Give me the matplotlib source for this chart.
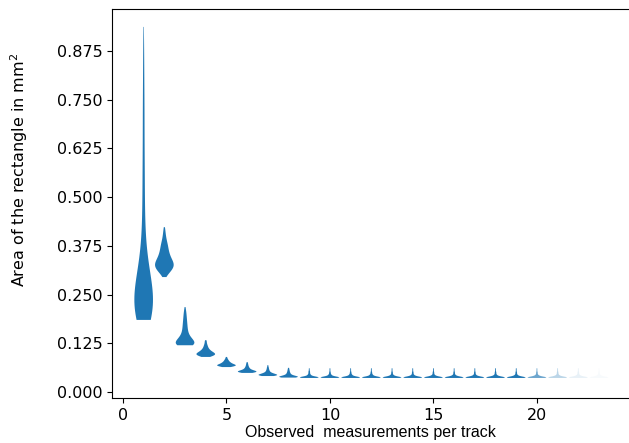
import numpy as np
import matplotlib
matplotlib.use('Agg')
import matplotlib.pyplot as plt
from matplotlib.ticker import MultipleLocator

# observed measurements per track (x positions of the violins)
track_len = list(range(1, 24))

# area samples per track length, written as value grid + how often each value occurs
area_vals_1 = [0.185, 0.21, 0.235, 0.26, 0.285, 0.31, 0.335, 0.36, 0.385, 0.41, 0.435,
               0.46, 0.485, 0.51, 0.535, 0.56, 0.585, 0.61, 0.635, 0.66, 0.685, 0.71,
               0.735, 0.76, 0.785, 0.81, 0.835, 0.86, 0.885, 0.91, 0.937]
area_cnts_1 = [45, 42, 40, 36, 28, 20, 14, 10, 7, 6, 5, 5, 4, 4, 4, 4, 4, 3, 3, 3, 3, 3,
               3, 3, 2, 2, 2, 2, 2, 1, 1]

area_vals_2 = [0.295, 0.305, 0.315, 0.325, 0.335, 0.345, 0.355, 0.365, 0.375, 0.385,
               0.395, 0.405, 0.415, 0.423]
area_cnts_2 = [3, 10, 18, 22, 19, 14, 11, 9, 8, 6, 4, 3, 2, 1]

area_vals_3 = [0.12, 0.1275, 0.135, 0.1425, 0.15, 0.1575, 0.165, 0.1725, 0.18, 0.1875,
               0.195, 0.2025, 0.21, 0.218]
area_cnts_3 = [24, 22, 16, 10, 7, 6, 5, 5, 4, 4, 3, 3, 2, 1]

area_vals_4 = [0.09, 0.094, 0.098, 0.102, 0.106, 0.11, 0.114, 0.118, 0.122, 0.126, 0.13, 0.133]
area_cnts_4 = [8, 18, 20, 15, 10, 7, 5, 4, 3, 2, 2, 1]

area_vals_5 = [0.064, 0.066, 0.068, 0.070, 0.072, 0.074, 0.076, 0.078, 0.080, 0.082,
               0.084, 0.086, 0.088, 0.090]
area_cnts_5 = [8, 16, 20, 18, 13, 10, 8, 6, 5, 4, 3, 2, 2, 1]

area_vals_6 = [0.049, 0.051, 0.053, 0.055, 0.057, 0.059, 0.061, 0.063, 0.065, 0.067,
               0.069, 0.071, 0.073, 0.075, 0.077]
area_cnts_6 = [10, 20, 20, 14, 9, 6, 5, 4, 3, 3, 2, 2, 2, 1, 1]

area_vals_7 = [0.041, 0.043, 0.045, 0.047, 0.049, 0.051, 0.053, 0.055, 0.057, 0.059,
               0.061, 0.063, 0.065, 0.067, 0.069]
area_cnts_7 = [12, 22, 18, 12, 8, 5, 4, 3, 3, 2, 2, 2, 1, 1, 1]

area_vals_8 = [0.037, 0.039, 0.041, 0.043, 0.045, 0.047, 0.049, 0.051, 0.053, 0.055,
               0.057, 0.059, 0.061, 0.062]
area_cnts_8 = [16, 22, 14, 8, 5, 4, 3, 3, 2, 2, 2, 1, 1, 1]

# from 9 measurements on the distributions hardly change
area_vals_long = [0.036, 0.0375, 0.039, 0.0405, 0.042, 0.0435, 0.045, 0.047, 0.049,
                  0.051, 0.053, 0.055, 0.057, 0.059, 0.061]
area_cnts_long = [
    [18, 24, 14, 7, 4, 3, 3, 2, 2, 2, 2, 1, 1, 1, 1],   # 9
    [18, 24, 14, 7, 4, 3, 3, 2, 2, 2, 1, 1, 1, 1, 1],   # 10
    [19, 24, 13, 7, 4, 3, 3, 2, 2, 2, 1, 1, 1, 1, 1],   # 11
    [19, 24, 13, 7, 4, 3, 3, 2, 2, 2, 1, 1, 1, 1, 1],   # 12
    [19, 24, 13, 7, 4, 3, 2, 2, 2, 2, 1, 1, 1, 1, 1],   # 13
    [19, 24, 13, 7, 4, 3, 2, 2, 2, 2, 1, 1, 1, 1, 1],   # 14
    [20, 24, 13, 7, 4, 3, 2, 2, 2, 2, 1, 1, 1, 1, 1],   # 15
    [20, 24, 13, 7, 4, 3, 2, 2, 2, 2, 1, 1, 1, 1, 1],   # 16
    [20, 24, 13, 7, 4, 3, 2, 2, 2, 2, 1, 1, 1, 1, 1],   # 17
    [20, 24, 13, 7, 4, 3, 2, 2, 2, 2, 1, 1, 1, 1, 1],   # 18
    [20, 24, 13, 7, 4, 3, 2, 2, 2, 2, 1, 1, 1, 1, 1],   # 19
    [20, 24, 13, 7, 4, 3, 2, 2, 2, 2, 1, 1, 1, 1, 1],   # 20
    [20, 24, 13, 7, 4, 3, 2, 2, 2, 2, 1, 1, 1, 1, 1],   # 21
    [20, 24, 13, 7, 4, 3, 2, 2, 2, 2, 1, 1, 1, 1, 1],   # 22
    [20, 24, 13, 7, 4, 3, 2, 2, 2, 2, 1, 1, 1, 1, 1],   # 23
]

# opacity of each violin (few tracks that long -> faded)
violin_alpha = [1.0] * 19 + [0.65, 0.3, 0.1, 0.03]

area_data = [np.repeat(area_vals_1, area_cnts_1),
             np.repeat(area_vals_2, area_cnts_2),
             np.repeat(area_vals_3, area_cnts_3),
             np.repeat(area_vals_4, area_cnts_4),
             np.repeat(area_vals_5, area_cnts_5),
             np.repeat(area_vals_6, area_cnts_6),
             np.repeat(area_vals_7, area_cnts_7),
             np.repeat(area_vals_8, area_cnts_8)]
area_data += [np.repeat(area_vals_long, c) for c in area_cnts_long]

fig = plt.figure(figsize=(6.29, 4.43), dpi=100)
ax = fig.add_axes([112/629, 45/443, 516/629, 389/443])

parts = ax.violinplot(area_data, positions=track_len, widths=0.9, bw_method=0.3,
                      showextrema=False, showmeans=False, showmedians=False)
for body, a in zip(parts['bodies'], violin_alpha):
    body.set_facecolor('#1f77b4')
    body.set_edgecolor('none')
    body.set_alpha(a)

ax.set_xlim(-0.53, 24.4)
ax.set_ylim(-0.0154, 0.983)
ax.yaxis.set_major_locator(MultipleLocator(0.125))
ax.xaxis.set_major_locator(MultipleLocator(5))
ax.tick_params(labelsize=11.5)
ax.spines['right'].set_visible(False)

ax.set_xlabel('Observed  measurements per track', family='Liberation Sans', fontsize=11.5,
              labelpad=2)
ax.set_ylabel('Area of the rectangle in mm$^2$', fontsize=11.5)
ax.yaxis.set_label_coords(-0.158, 0.586)

fig.savefig('out.png', dpi=100)
